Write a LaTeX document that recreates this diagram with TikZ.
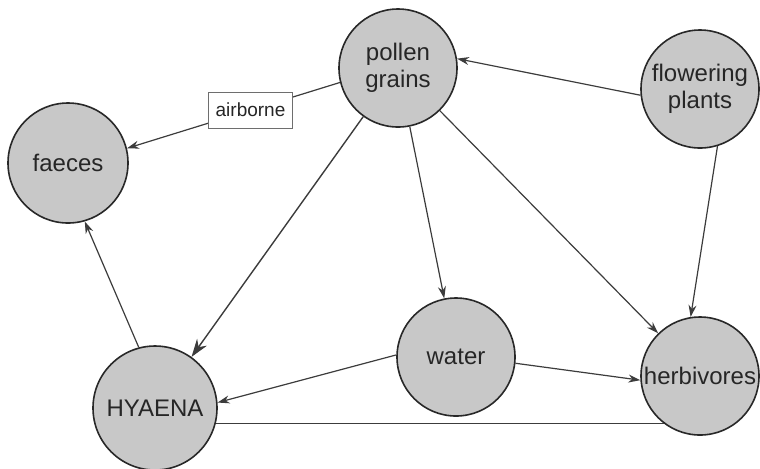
\documentclass[tikz,border=0pt]{standalone}
\usepackage{fontspec}
\setmainfont{Liberation Sans}
\usepackage{tikz}
\usetikzlibrary{arrows.meta}
\definecolor{nodefill}{RGB}{200,200,200}
\definecolor{rimgray}{RGB}{40,40,40}
\definecolor{inkgray}{RGB}{60,60,60}
\definecolor{tagrule}{RGB}{110,110,110}
\tikzset{
  concept/.style={circle,draw=rimgray,line width=0.8pt,fill=nodefill,align=center,minimum size=59pt,inner sep=0pt,font=\fontsize{12}{13.5}\selectfont,text=black!85},
  tag/.style={rectangle,draw=tagrule,fill=white,line width=0.5pt,minimum width=42pt,minimum height=18pt,inner sep=1pt,font=\fontsize{9.5}{11}\selectfont,text=black!85},
  link/.style={-{Stealth[length=6pt,width=4pt]},draw=inkgray,line width=0.6pt},
  biglink/.style={-{Stealth[length=9pt,width=6pt]},draw=inkgray,line width=0.7pt},
  plainlink/.style={draw=inkgray,line width=0.6pt}
}
\begin{document}
\begin{tikzpicture}[x=0.5pt,y=-0.5pt]
  \useasboundingbox (0,0) rectangle (760,468);
  % concepts
  \node[concept] (pollen) at (398,68) {pollen\\grains};
  \node[concept] (flowering) at (700,89) {flowering\\plants};
  \node[concept,minimum size=60pt] (faeces) at (68,163) {faeces};
  \node[concept] (water) at (456,357) {water};
  \node[concept] (herbivores) at (700,376) {herbivores};
  \node[concept,minimum size=62pt] (hyaena) at (155,408) {HYAENA};
  % links
  \draw[link] (flowering.186) -- (pollen.9);
  \draw[link] (flowering.-73) -- (herbivores.99);
  \draw[link] (pollen.194) -- node[tag,pos=0.42] {airborne} (faeces.14);
  \draw[biglink] (pollen) -- (hyaena);
  \draw[link] (pollen) -- (water);
  \draw[link] (pollen) -- (herbivores);
  \draw[link] (water.178) -- (hyaena.5);
  \draw[link] (water.-6) -- (herbivores.184);
  \draw[link] (hyaena.105) -- (faeces.-74);
  \draw[plainlink] (hyaena.-14) -- (hyaena.-14 -| herbivores.233);
\end{tikzpicture}
\end{document}
